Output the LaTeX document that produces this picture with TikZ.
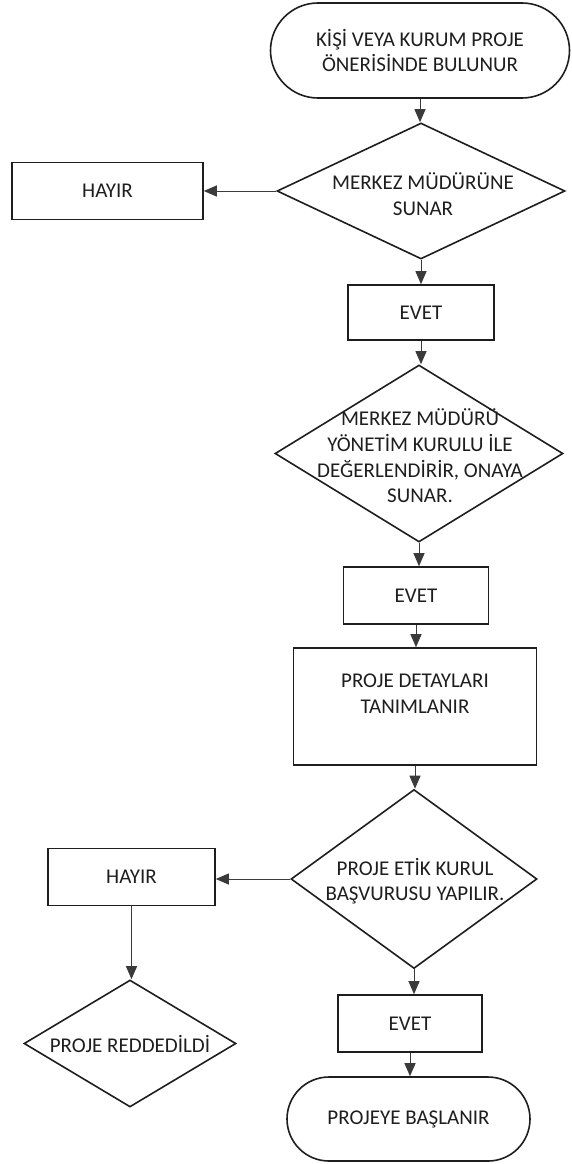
\documentclass[tikz,border=0pt]{standalone}
\usepackage{fontspec}
\setmainfont{Carlito}
\usetikzlibrary{shapes.geometric,shapes.misc,arrows.meta}
\definecolor{ink}{HTML}{1E1E1E}
\definecolor{wire}{HTML}{3A3A3A}
\tikzset{
  base/.style={draw=ink, line width=1.6pt, inner sep=0pt, font=\fontsize{21}{25.6}\selectfont, text=ink, align=center},
  procbox/.style={base, rectangle},
  termbox/.style={base, rounded rectangle},
  decbox/.style={draw=ink, line width=1.6pt, diamond, inner sep=0pt},
  txt/.style={inner sep=0pt, font=\fontsize{21}{25.6}\selectfont, text=ink, align=center},
  conn/.style={draw=wire, line width=1pt, -{Triangle[length=13pt,width=11pt]}}
}
\begin{document}
\begin{tikzpicture}[x=1pt,y=-1pt]
\fill[white] (0,0) rectangle (571,1164);
\path[use as bounding box] (0,0) rectangle (571,1164);

% top terminal
\node[termbox, minimum width=299pt, minimum height=95pt] (T1) at (420,50.5) {KİŞİ VEYA KURUM PROJE\\ÖNERİSİNDE BULUNUR};

% decision 1
\node[decbox, minimum width=288pt, minimum height=136pt] (D1) at (421,191) {};
\node[txt] (D1t) at (423,194) {MERKEZ MÜDÜRÜNE\\SUNAR};

\node[procbox, minimum width=191pt, minimum height=57pt] (H1) at (107.5,191) {HAYIR};

\node[procbox, minimum width=146pt, minimum height=55pt] (E1) at (421,312.5) {EVET};

% decision 2
\node[decbox, minimum width=288pt, minimum height=177pt] (D2) at (419,453.5) {};
\node[txt] (D2t) at (420,456) {MERKEZ MÜDÜRÜ\\YÖNETİM KURULU İLE\\DEĞERLENDİRİR, ONAYA\\SUNAR.};

\node[procbox, minimum width=145pt, minimum height=57pt] (E2) at (416,595.5) {EVET};

\node[procbox, minimum width=243pt, minimum height=117pt] (P) at (415,706.5) {PROJE DETAYLARI\\TANIMLANIR\\\mbox{}};

% decision 3
\node[decbox, minimum width=246pt, minimum height=179pt] (D3) at (414,879) {};
\node[txt] (D3t) at (415,881) {PROJE ETİK KURUL\\BAŞVURUSU YAPILIR.};

\node[procbox, minimum width=167pt, minimum height=57pt] (H2) at (131.5,877) {HAYIR};

% decision 4
\node[decbox, minimum width=212pt, minimum height=127pt] (D4) at (130,1043.5) {};
\node[txt] (D4t) at (130,1044) {PROJE REDDEDİLDİ};

\node[procbox, minimum width=144pt, minimum height=57pt] (E3) at (410,1023.5) {EVET};

\node[termbox, minimum width=243pt, minimum height=84pt] (T2) at (408.5,1119) {PROJEYE BAŞLANIR};

% connectors
\draw[conn] (T1.south) -- (T1.south |- D1.north);
\draw[conn] (D1.west) -- (D1.west -| H1.east);
\draw[conn] (D1.south) -- (D1.south |- E1.north);
\draw[conn] (E1.south) -- (E1.south |- D2.north);
\draw[conn] (D2.south) -- (D2.south |- E2.north);
\draw[conn] (E2.south) -- (E2.south |- P.north);
\draw[conn] (P.south) -- (P.south |- D3.north);
\draw[conn] (D3.west) -- (D3.west -| H2.east);
\draw[conn] (H2.south) -- (H2.south |- D4.north);
\draw[conn] (D3.south) -- (D3.south |- E3.north);
\draw[conn] (E3.south) -- (E3.south |- T2.north);
\end{tikzpicture}
\end{document}
